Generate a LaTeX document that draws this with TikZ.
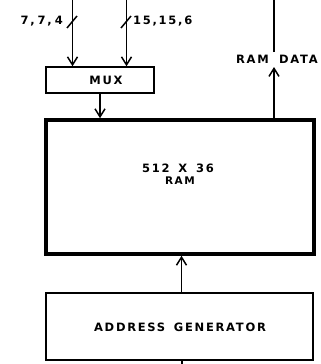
\documentclass[tikz,border=0pt]{standalone}
\usepackage{fontspec}
\usetikzlibrary{arrows.meta}
\newfontfamily\lgfont[LetterSpace=15,BoldFont={DejaVu Sans Bold}]{DejaVu Sans}
\begin{document}
\begin{tikzpicture}[x=1pt,y=-1pt,
  thinln/.style={line width=1.5pt},
  arr/.style={thinln,-{Straight Barb[length=8pt,width=10pt,line width=1.5pt]}},
  lbl/.style={font=\lgfont\bfseries\fontsize{11.5}{12}\selectfont,inner sep=0pt},
  box/.style={draw,thinln,inner sep=0pt},
  bigbox/.style={draw,line width=3.6pt,inner sep=0pt}]
\useasboundingbox (0,0) rectangle (321,364);
% boxes
\node[box,minimum width=108pt,minimum height=26pt] (mux) at (100,80) {};
\node[lbl] at (106,80.5) {MUX};
\node[bigbox,minimum width=268pt,minimum height=134pt] (ram) at (180,187) {};
\node[lbl] (ramt1) at (178,168) {512\hspace{3pt} X\hspace{3pt} 36};
\node[lbl,font=\lgfont\bfseries\fontsize{10.5}{11}\selectfont] (ramt2) at (180,181) {RAM};
\node[box,minimum width=267pt,minimum height=67pt] (ag) at (179.5,326.5) {};
\node[lbl] at (180,327) {ADDRESS\hspace{3pt} GENERATOR};
% inputs
\coordinate (inL) at (72.5,0);
\coordinate (inR) at (126.5,0);
\draw[arr] (inL) -- (inL |- mux.north);
\draw[arr] (inR) -- (inR |- mux.north);
\draw[thinln] (67,28) -- (77,16);
\draw[thinln] (121,28) -- (131,16);
\node[lbl,anchor=east] at (63,21) {7,\hspace{3pt}7,\hspace{3pt}4};
\node[lbl,anchor=west] at (133,21) {15,15,6};
% mux to ram
\draw[arr] (mux.south) -- (mux.south |- ram.north);
% ram data
\coordinate (rd) at (274,118);
\coordinate (rdtip) at (274,67);
\coordinate (rdtop) at (274,0);
\draw[arr] (rd) -- (rdtip);
\draw[thinln] (274,52) -- (rdtop);
\node[lbl,anchor=east] at (269,59.5) {RAM};
\node[lbl,anchor=west] at (279,59.5) {DATA};
% address gen to ram
\coordinate (agt) at (181.5,293);
\draw[arr] (agt) -- (agt |- ram.south);
\coordinate (agb) at (182,364);
\draw[thinln] (182,360) -- (agb);
\end{tikzpicture}
\end{document}
